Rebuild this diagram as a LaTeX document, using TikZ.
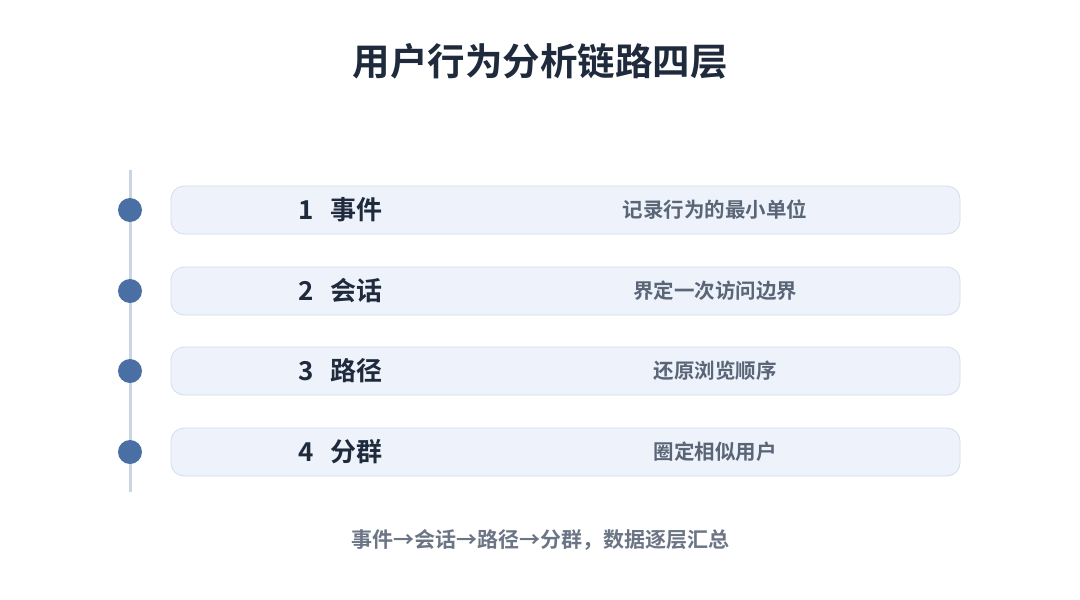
\documentclass[tikz,border=0pt]{standalone}
\usepackage{fontspec}
\setmainfont{Noto Sans CJK SC}
\newfontfamily\cjkb{Noto Sans CJK SC Bold}
\definecolor{titlec}{HTML}{1F2A3C}
\definecolor{linec}{HTML}{CBD5E1}
\definecolor{dotc}{HTML}{4A6FA5}
\definecolor{boxf}{HTML}{EEF3FB}
\definecolor{boxd}{HTML}{D3DDEC}
\definecolor{descc}{HTML}{5A6677}
\definecolor{footc}{HTML}{6B7585}
\begin{document}
\begin{tikzpicture}[x=1pt,y=-1pt,
  rowbox/.style={draw=boxd,line width=0.8pt,fill=boxf,rounded corners=13pt,minimum width=789pt,minimum height=48pt,inner sep=0pt},
  dotn/.style={circle,fill=dotc,minimum size=24pt,inner sep=0pt},
  lbl/.style={font=\cjkb\fontsize{26pt}{30pt}\selectfont,text=titlec,inner sep=0pt},
  desc/.style={font=\cjkb\fontsize{20.5pt}{24pt}\selectfont,text=descc,inner sep=0pt}]
\useasboundingbox[fill=white] (0,0) rectangle (1080,600);
\node[font=\cjkb\fontsize{37.5pt}{42pt}\selectfont,text=titlec] (title) at (540,61) {用户行为分析链路四层};
\coordinate (ltop) at (130,170);
\coordinate (lbot) at (130,492);
\draw[linec,line width=3pt] (ltop) -- (lbot);
\foreach \i/\y/\a/\b in {1/210/事件/记录行为的最小单位,2/291/会话/界定一次访问边界,3/371/路径/还原浏览顺序,4/452/分群/圈定相似用户}{
  \node[rowbox] (box\i) at (565.5,\y) {};
  \node[dotn] (dot\i) at (130,\y) {};
  \node[lbl] (lbl\i) at (340.5,\y) {\i\hspace{17pt}\a};
  \node[desc] (desc\i) at (715,\y) {\b};
}
\node[font=\cjkb\fontsize{21pt}{24pt}\selectfont,text=footc] (foot) at (540,540) {事件→会话→路径→分群，数据逐层汇总};
\end{tikzpicture}
\end{document}
